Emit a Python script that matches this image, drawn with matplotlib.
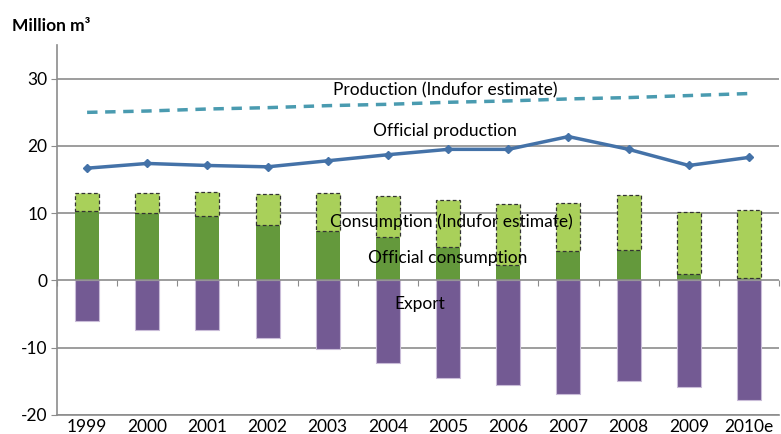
import numpy as np
import matplotlib
matplotlib.use('Agg')
import matplotlib.pyplot as plt

# Data (million m3)
years = ["1999", "2000", "2001", "2002", "2003", "2004", "2005", "2006",
         "2007", "2008", "2009", "2010e"]
production_estimate = [25.0, 25.2, 25.5, 25.7, 26.0, 26.2, 26.5, 26.7, 27.0, 27.2, 27.5, 27.8]
official_production = [16.7, 17.4, 17.1, 16.9, 17.8, 18.7, 19.5, 19.5, 21.4, 19.5, 17.1, 18.3]
official_consumption = [10.4, 10.0, 9.6, 8.3, 7.4, 6.4, 4.9, 2.3, 4.4, 4.5, 1.0, 0.4]
consumption_estimate = [13.0, 13.0, 13.2, 12.8, 13.0, 12.5, 11.9, 11.4, 11.5, 12.7, 10.2, 10.5]
export = [-6.1, -7.4, -7.4, -8.6, -10.2, -12.3, -14.5, -15.6, -16.9, -15.0, -15.9, -17.8]

plt.rcParams['font.family'] = ['Lato', 'DejaVu Sans']
plt.rcParams['axes.unicode_minus'] = False

fig = plt.figure(figsize=(7.81, 4.34), dpi=100)
ax = fig.add_axes([0.073, 0.044, 0.9245, 0.852])

x = np.arange(len(years))
w = 0.4
grid_c = '#8c8c8c'

# horizontal gridlines
for v in [30, 20, 10, -10, -20]:
    ax.axhline(v, color=grid_c, lw=1.2, zorder=0)

# bars
ax.bar(x, export, width=w, color='#735a93', edgecolor='#c9bcd8', lw=0.8, zorder=2)
ax.bar(x, official_consumption, width=w, color='#64993c', edgecolor='none', zorder=2)
extra = np.array(consumption_estimate) - np.array(official_consumption)
ax.bar(x, extra, bottom=official_consumption, width=w, color='#a9d05a',
       edgecolor='#333333', lw=0.9, linestyle=(0, (3, 2)), zorder=2)

ax.axhline(0, color=grid_c, lw=1.2, zorder=3)

# lines
ax.plot(x, production_estimate, color='#4a9bb0', lw=2.5, linestyle=(0, (3, 2.2)), zorder=4)
ax.plot(x, official_production, color='#4472a8', lw=2.5, marker='D', ms=4.5, zorder=4)

# in-chart labels
fs = 12.5
ax.text(5.95, 28.3, "Production (Indufor estimate)", ha='center', va='center', fontsize=fs, zorder=5)
ax.text(5.95, 22.2, "Official production", ha='center', va='center', fontsize=fs, zorder=5)
ax.text(6.05, 8.8, "Consumption (Indufor estimate)", ha='center', va='center', fontsize=fs, zorder=5)
ax.text(5.99, 3.3, "Official consumption", ha='center', va='center', fontsize=fs, zorder=5)
ax.text(5.53, -3.5, "Export", ha='center', va='center', fontsize=fs, zorder=5)

ax.set_xlim(-0.5, len(years) - 0.5)
ax.set_ylim(-20, 35)
ax.set_yticks([30, 20, 10, 0, -10, -20])
ax.set_xticks(x)
ax.set_xticklabels(years)
ax.tick_params(axis='x', length=0, labelsize=12.5, pad=3)
ax.tick_params(axis='y', length=4, color=grid_c, labelsize=12.5, direction='out', pad=3)

for s in ['top', 'right']:
    ax.spines[s].set_visible(False)
ax.spines['left'].set_color(grid_c)
ax.spines['left'].set_linewidth(1.2)
ax.spines['bottom'].set_color(grid_c)
ax.spines['bottom'].set_linewidth(1.2)

# category tick marks along the zero line
sec = ax.secondary_xaxis(20 / 55)
sec.set_xticks(np.arange(len(years) + 1) - 0.5)
sec.set_xticklabels([])
sec.tick_params(length=4, color=grid_c, direction='out')
sec.spines['bottom'].set_visible(False)

fig.text(0.015, 0.94, "Million m\u00b3", fontsize=12.5, fontweight='bold', va='center')

fig.savefig('out.png', dpi=100)
